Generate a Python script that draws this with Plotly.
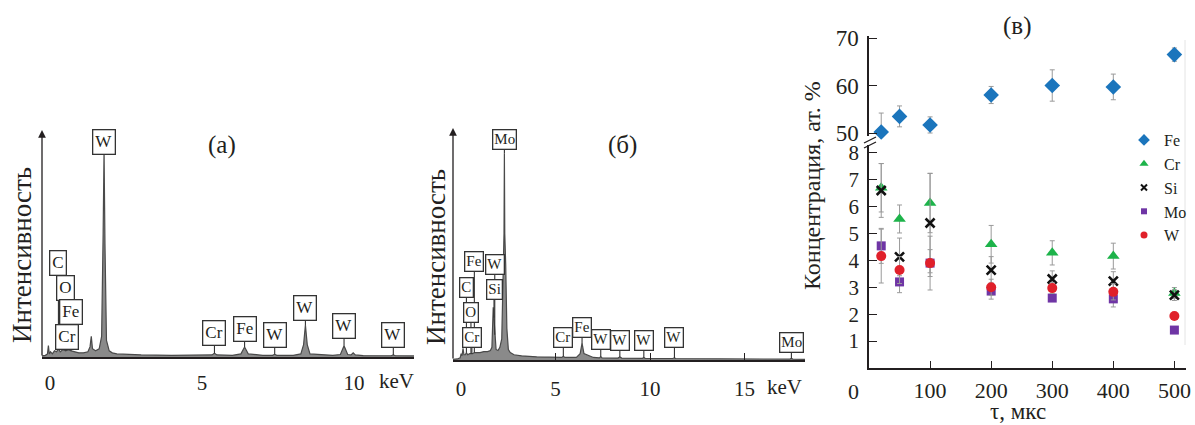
import numpy as np
import plotly.graph_objects as go

W, H = 1195, 425
FONT = "Liberation Serif, Times New Roman, serif"
INK = "#231f20"

# ---------------- spectrum (а) ----------------
energy_a = [-0.26, -0.15, -0.08, -0.05, -0.02, 0.02, 0.08, 0.15, 0.22, 0.28, 0.34, 0.42, 0.52, 0.60,
            0.70, 0.80, 0.95, 1.10, 1.25, 1.32, 1.36, 1.40, 1.50, 1.62, 1.70, 1.75, 1.78, 1.81, 1.86,
            1.95, 2.05, 2.2, 2.5, 3.0, 4.0, 5.0, 5.33, 5.41, 5.49, 6.0, 6.28, 6.40, 6.52, 7.0, 7.32,
            7.39, 7.46, 8.0, 8.25, 8.34, 8.40, 8.46, 8.55, 9.3, 9.55, 9.67, 9.79, 9.90, 9.97, 10.04,
            10.3, 11.0, 11.22, 11.29, 11.36, 11.97]
counts_a = [0.5, 0.8, 1.5, 5.5, 1.5, 2.5, 1.5, 3.0, 2.5, 4.0, 2.5, 3.5, 3.0, 3.5,
            3.0, 2.5, 2.0, 2.0, 2.5, 5.0, 10.0, 4.0, 3.0, 4.0, 10.0, 60.0, 100.0, 55.0, 8.0,
            3.0, 2.0, 1.5, 1.2, 1.0, 0.8, 0.8, 1.0, 1.8, 1.0, 0.8, 1.5, 4.8, 1.5, 0.8, 0.8,
            1.3, 0.8, 0.8, 1.5, 6.0, 15.5, 6.0, 1.5, 0.8, 1.2, 5.5, 1.2, 1.0, 2.0, 1.0,
            0.7, 0.6, 0.6, 1.0, 0.6, 0.5]
labels_a = ["W", "C", "O", "Fe", "Cr", "Cr", "Fe", "W", "W", "W", "W"]
label_energy_a = [1.78, 0.28, 0.52, 0.70, 0.57, 5.41, 6.40, 7.39, 8.40, 9.67, 11.29]
label_rise_a = [9, 86, 63, 39, 13, 20, 18, 19, 17, 20, 20]

# ---------------- spectrum (б) ----------------
energy_b = [-0.43, -0.2, -0.05, 0.0, 0.05, 0.10, 0.15, 0.22, 0.28, 0.35, 0.45, 0.52, 0.60, 0.70,
            0.85, 1.0, 1.2, 1.4, 1.55, 1.63, 1.70, 1.74, 1.78, 1.85, 1.95, 2.05, 2.15, 2.22, 2.27,
            2.29, 2.31, 2.36, 2.42, 2.5, 2.6, 2.8, 3.2, 4.0, 5.0, 5.33, 5.41, 5.49, 6.1, 6.30, 6.40,
            6.50, 7.0, 7.32, 7.39, 7.46, 8.3, 8.40, 8.5, 9.6, 9.67, 9.74, 11.2, 11.29, 11.36, 14.0,
            17.4, 17.48, 17.56, 18.2]
counts_b = [0.3, 0.5, 1.0, 3.0, 2.0, 5.5, 2.5, 2.5, 3.5, 2.5, 3.0, 3.0, 3.0, 3.5,
            3.5, 3.5, 4.0, 4.0, 4.5, 6.0, 25.0, 20.0, 12.0, 5.0, 4.5, 6.0, 10.0, 40.0, 60.0,
            98.0, 60.0, 45.0, 15.0, 5.0, 3.5, 2.5, 2.0, 1.5, 1.2, 1.2, 1.8, 1.2, 1.2, 3.0, 8.0,
            3.0, 1.2, 1.0, 1.6, 1.0, 0.9, 1.4, 0.9, 0.8, 1.2, 0.8, 0.7, 1.0, 0.7, 0.5,
            0.4, 0.7, 0.4, 0.3]
labels_b = ["Mo", "W", "Fe", "C", "Si", "O", "Cr", "Cr", "Fe", "W", "W", "W", "W", "Mo"]
label_energy_b = [2.29, 1.78, 0.70, 0.28, 1.74, 0.52, 0.57, 5.41, 6.40, 7.39, 8.40, 9.67, 11.29, 17.48]
label_rise_b = [14, 70, 91, 65, 28, 41, 16, 19, 16, 17, 17, 17, 20, 16]

# ---------------- concentrations (в) ----------------
tau = [20, 50, 100, 200, 300, 400, 500]
fe = [50.2, 53.5, 51.7, 58.0, 60.0, 59.7, 66.5]
fe_err = [4.0, 2.2, 1.7, 1.8, 3.3, 2.7, 1.4]
cr = [6.7, 5.54, 6.13, 4.6, 4.28, 4.16, 2.79]
cr_err = [0.9, 0.52, 1.1, 0.7, 0.45, 0.48, 0.2]
si = [6.6, 4.13, 5.39, 3.64, 3.31, 3.23, 2.71]
si_err = [1.0, 0.7, 1.85, 0.5, 0.3, 0.35, 0.2]
mo = [4.54, 3.2, 3.9, 2.86, 2.6, 2.57, 1.41]
mo_err = [0.65, 0.4, 1.0, 0.3, 0.1, 0.3, 0.1]
w = [4.16, 3.64, 3.9, 3.0, 2.97, 2.83, 1.93]
w_err = [1.0, 0.5, 0.5, 0.3, 0.2, 0.3, 0.1]


def px(x):
    return x / W


def py(y):
    return 1 - y / H


# panel geometry (pixels)
A_BOTTOM, A_TOP = 357, 130
B_BOTTOM, B_TOP = 360, 128
SPEC_MAX = 110

fig = go.Figure()

SPEC_FILL = "#8a8a8a"
SPEC_LINE = "#4a4a4a"
fig.add_trace(go.Scatter(x=energy_a, y=counts_a, xaxis="x", yaxis="y", mode="lines",
                         line=dict(color=SPEC_LINE, width=1.2), fill="tozeroy",
                         fillcolor=SPEC_FILL, showlegend=False, hoverinfo="skip"))
fig.add_trace(go.Scatter(x=energy_b, y=counts_b, xaxis="x2", yaxis="y2", mode="lines",
                         line=dict(color=SPEC_LINE, width=1.2), fill="tozeroy",
                         fillcolor=SPEC_FILL, showlegend=False, hoverinfo="skip"))

ERR = dict(type="data", color="#9a9a9a", thickness=1, width=2.5)

# name: (colour, symbol, size, outline width)
STYLE = {
    "Fe": ("#1b75bc", "diamond", 12, 0),
    "Cr": ("#1db34a", "triangle-up", 11, 0),
    "Si": ("#111111", "x-thin", 9, 2.6),
    "Mo": ("#6f35a5", "square", 9, 0),
    "W": ("#e0202a", "circle", 10, 0),
}


def marker(name, shrink=0):
    color, symbol, size, lw = STYLE[name]
    return dict(color=color, symbol=symbol, size=max(size - shrink, 6),
                line=dict(width=lw if lw else 0, color=color))


def series(name, y, err, yaxis, xaxis="x3"):
    return go.Scatter(x=tau, y=y, name=name, mode="markers", xaxis=xaxis, yaxis=yaxis,
                      marker=marker(name), error_y=dict(array=err, **ERR),
                      cliponaxis=False, showlegend=False)


fig.add_trace(series("Fe", fe, fe_err, "y4", "x4"))
fig.add_trace(series("Cr", cr, cr_err, "y3"))
fig.add_trace(series("Si", si, si_err, "y3"))
fig.add_trace(series("Mo", mo, mo_err, "y3"))
fig.add_trace(series("W", w, w_err, "y3"))

# legend entries with the smaller symbols of the original key
for name in STYLE:
    m = marker(name, shrink=3)
    if STYLE[name][3]:
        m["line"]["width"] = 2
    fig.add_trace(go.Scatter(x=[None], y=[None], name=name, mode="markers", xaxis="x3",
                             yaxis="y3", marker=m, showlegend=True, hoverinfo="skip"))

axis_common = dict(showgrid=False, zeroline=False, linecolor=INK, tickcolor=INK,
                   tickfont=dict(family=FONT, size=21, color=INK))

layout = dict(
    width=W, height=H, margin=dict(l=0, r=0, t=0, b=0, autoexpand=False),
    paper_bgcolor="white", plot_bgcolor="white",
    font=dict(family=FONT, color=INK),
    xaxis=dict(domain=[px(42), px(414)], range=[-0.26, 11.97], anchor="y", showline=True,
               linewidth=2, ticks="", tickvals=[0, 5, 10], ticktext=["0", "5", "10"],
               ticklabelstandoff=6, automargin=False, **axis_common),
    yaxis=dict(domain=[py(A_BOTTOM), py(A_TOP)], range=[0, SPEC_MAX], anchor="x", visible=False),
    xaxis2=dict(domain=[px(453), px(805)], range=[-0.43, 18.2], anchor="y2", showline=True,
                linewidth=2, ticks="", tickvals=[0, 5, 10, 15], ticktext=["0", "5", "10", "15"],
                minor=dict(tickmode="array", tickvals=[5, 10, 15], ticks="inside", ticklen=7,
                           tickcolor=INK, tickwidth=1.2),
                ticklabelstandoff=9, automargin=False, **axis_common),
    yaxis2=dict(domain=[py(B_BOTTOM), py(B_TOP)], range=[0, SPEC_MAX], anchor="x2", visible=False),
    xaxis3=dict(domain=[px(869), px(1186)], range=[0, 519], anchor="y3", showline=True,
                linewidth=1.5, ticks="inside", ticklen=7, tickwidth=1.2,
                tickvals=[100, 200, 300, 400, 500], ticklabelstandoff=2, automargin=False,
                **{**axis_common, "tickfont": dict(family=FONT, size=22, color=INK)}),
    xaxis4=dict(domain=[px(869), px(1186)], range=[0, 519], anchor="y4", matches="x3",
                visible=False),
    yaxis3=dict(domain=[py(368), py(145)], range=[0, 8.29], anchor="x3", showline=True,
                linewidth=1.5, ticks="inside", ticklen=8, tickwidth=1.2,
                tickvals=[1, 2, 3, 4, 5, 6, 7, 8], ticklabelstandoff=4, automargin=False,
                **{**axis_common, "tickfont": dict(family=FONT, size=21, color=INK)}),
    yaxis4=dict(domain=[py(136), py(36)], range=[49.37, 70.42], anchor="x4", showline=True,
                linewidth=1.5, ticks="inside", ticklen=8, tickwidth=1.2,
                tickvals=[50, 60, 70], ticklabelstandoff=4, automargin=False,
                **{**axis_common, "tickfont": dict(family=FONT, size=23, color=INK)}),
    legend=dict(x=px(1124), y=py(123), xanchor="left", yanchor="top",
                font=dict(family=FONT, size=16, color=INK), bgcolor="rgba(0,0,0,0)",
                tracegroupgap=0, itemwidth=30),
    showlegend=True,
)
fig.update_layout(**layout)

ann = []


def label_annotations(labels, energies, rises, energy, counts, xr, yr, ppu, size, pad):
    """Callout boxes: leader from the spectrum at the line energy up to the box centre."""
    out = []
    for lab, e, r in zip(labels, energies, rises):
        tip = float(np.interp(e, energy, counts))
        centre = tip + r / ppu
        out.append(dict(x=e, y=tip, ax=e, ay=centre, xref=xr, yref=yr, axref=xr, ayref=yr,
                        text="", showarrow=True, arrowhead=0, arrowwidth=1.1,
                        arrowcolor="#333"))
        out.append(dict(x=e, y=centre, xref=xr, yref=yr, text=lab, showarrow=False,
                        xanchor="center", yanchor="middle",
                        bordercolor="#333", borderwidth=1.3, borderpad=pad, bgcolor="white",
                        font=dict(family=FONT, size=size, color=INK)))
    return out


ppu_a = (A_BOTTOM - A_TOP) / SPEC_MAX
ppu_b = (B_BOTTOM - B_TOP) / SPEC_MAX
ann += label_annotations(labels_a, label_energy_a, label_rise_a, energy_a, counts_a,
                         "x", "y", ppu_a, 17, 2)
ann += label_annotations(labels_b, label_energy_b, label_rise_b, energy_b, counts_b,
                         "x2", "y2", ppu_b, 15, 1)

# intensity axes drawn as arrows
ann.append(dict(x=-0.26, y=SPEC_MAX, ax=-0.26, ay=0, xref="x", yref="y", axref="x", ayref="y",
                text="", showarrow=True, arrowhead=2, arrowsize=1.2, arrowwidth=1.3,
                arrowcolor=INK))
ann.append(dict(x=-0.43, y=SPEC_MAX, ax=-0.43, ay=0, xref="x2", yref="y2", axref="x2",
                ayref="y2", text="", showarrow=True, arrowhead=2, arrowsize=1.2,
                arrowwidth=1.3, arrowcolor=INK))


def txt(text, x, y, size, angle=0):
    return dict(x=px(x), y=py(y), xref="paper", yref="paper", text=text, showarrow=False,
                textangle=angle, xanchor="center", yanchor="middle",
                font=dict(family=FONT, size=size, color=INK))


ann += [
    txt("Интенсивность", 22, 255, 27, -90),
    txt("Интенсивность", 436, 257, 27, -90),
    txt("Концентрация, ат. %", 812, 186, 24, -90),
    txt("τ, мкс", 1018, 411, 23),
    txt("(а)", 222, 145, 25),
    txt("(б)", 622, 145, 25),
    txt("(в)", 1017, 26, 25),
    txt("keV", 396, 381, 21),
    txt("keV", 784, 387, 21),
    txt("0", 853, 391, 22),
]
fig.update_layout(annotations=ann)

# axis break marks and faint frame line
shapes = [
    dict(type="line", xref="paper", yref="paper", x0=px(864), y0=py(143), x1=px(876), y1=py(137),
         line=dict(color=INK, width=1.3)),
    dict(type="line", xref="paper", yref="paper", x0=px(864), y0=py(148), x1=px(876), y1=py(142),
         line=dict(color=INK, width=1.3)),
    dict(type="line", xref="paper", yref="paper", x0=px(1185), y0=py(40), x1=px(1185), y1=py(345),
         line=dict(color="#e4e4e4", width=1)),
]
fig.update_layout(shapes=shapes)

fig.write_html("out.html")
